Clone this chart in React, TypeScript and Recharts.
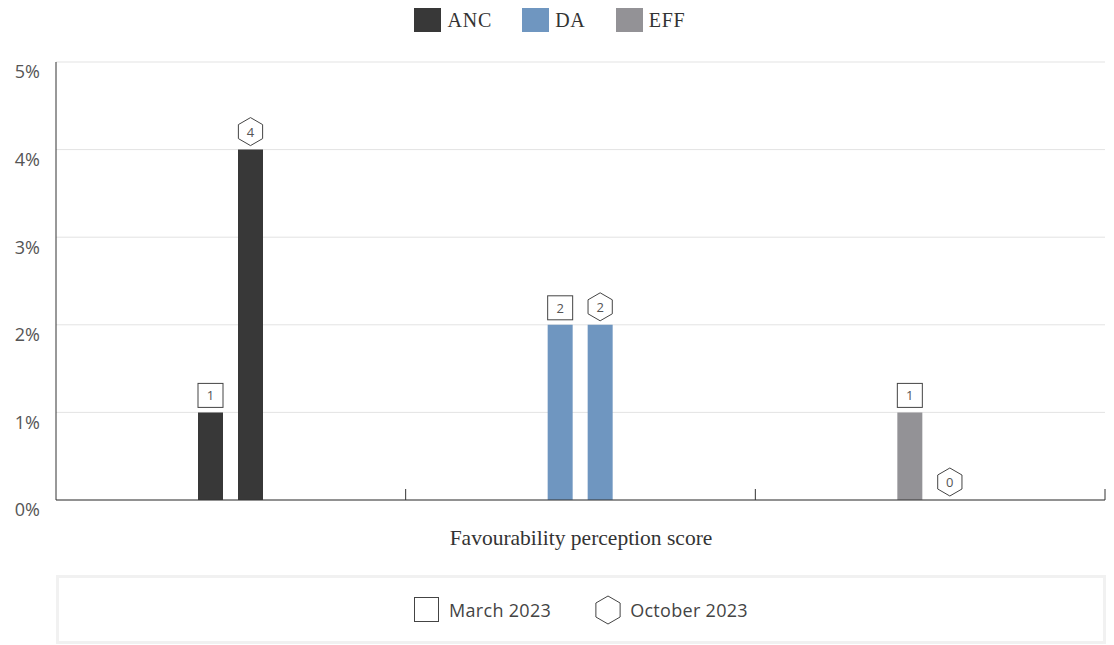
import React from 'react';
import { BarChart, Bar, XAxis, YAxis, CartesianGrid, LabelList, Cell } from 'recharts';

const parties = ['ANC', 'DA', 'EFF'];
const partyColors = ['#383838', '#6f96c0', '#939296'];
const march2023 = [1, 2, 1];
const october2023 = [4, 2, 0];
const yTicks = [0, 1, 2, 3, 4, 5];
const waves = ['March 2023', 'October 2023'];
const xTitle = 'Favourability perception score';

const data = parties.map((p, i) => ({ party: p, march: march2023[i], october: october2023[i] }));

const SANS = '"Open Sans", Lato, sans-serif';
const SERIF = '"Liberation Serif", "DejaVu Serif", serif';

const hexPoints = (cx: number, cy: number, r: number) =>
  [0, 1, 2, 3, 4, 5]
    .map((k) => {
      const a = ((-90 + 60 * k) * Math.PI) / 180;
      return `${cx + r * Math.cos(a)},${cy + r * Math.sin(a)}`;
    })
    .join(' ');

const SquareLabel = (props: any) => {
  const { x, y, width, value } = props;
  const cx = x + width / 2;
  const bottom = y - 5;
  return (
    <g>
      <rect x={cx - 12.5} y={bottom - 24} width={25} height={24} fill="#fff" stroke="#444" strokeWidth={1} />
      <text x={cx} y={bottom - 12} textAnchor="middle" dominantBaseline="central" fontSize={13} fill="#555" fontFamily={SANS}>
        {value}
      </text>
    </g>
  );
};

const HexLabel = (props: any) => {
  const { x, y, width, height, value } = props;
  const cx = x + width / 2;
  // bars of 0 get a tiny min size, so anchor on the lower edge in that case
  const top = value === 0 ? y + height : y;
  const cy = top - 4 - 14;
  return (
    <g>
      <polygon points={hexPoints(cx, cy, 14)} fill="#fff" stroke="#444" strokeWidth={1} />
      <text x={cx} y={cy} textAnchor="middle" dominantBaseline="central" fontSize={13} fill="#555" fontFamily={SANS}>
        {value}
      </text>
    </g>
  );
};

// tick lines sit on the category boundaries, not the centres
const BoundaryTick = (props: any) => {
  const { x, y, payload } = props;
  const half = payload && payload.offset ? payload.offset : 174.8;
  const bx = x + half;
  return <line x1={bx} y1={y} x2={bx} y2={y - 11} stroke="#333" strokeWidth={1} />;
};

const TopLegend = () => (
  <div style={{ position: 'absolute', left: 0, top: 8, width: 1114, display: 'flex', justifyContent: 'center', paddingRight: 14, boxSizing: 'border-box' }}>
    {parties.map((p, i) => (
      <div key={p} style={{ display: 'flex', alignItems: 'center', marginRight: i < parties.length - 1 ? 30 : 0 }}>
        <div style={{ width: 27, height: 24, background: partyColors[i], marginRight: 6 }} />
        <span style={{ fontFamily: SERIF, fontSize: 20, color: '#333', lineHeight: '24px', letterSpacing: 0.8 }}>{p}</span>
      </div>
    ))}
  </div>
);

const BottomLegend = () => (
  <div
    style={{
      position: 'absolute', left: 56, top: 575, width: 1050, height: 69, boxSizing: 'border-box',
      border: '3px solid #f1f1f1', display: 'flex', alignItems: 'center', justifyContent: 'center',
    }}
  >
    <div style={{ display: 'flex', alignItems: 'center', marginRight: 44 }}>
      <svg width={26} height={26} style={{ marginRight: 9 }}>
        <rect x={0.5} y={0.5} width={24} height={24} fill="#fff" stroke="#444" />
      </svg>
      <span style={{ fontFamily: SANS, fontSize: 18, color: '#444', letterSpacing: 0.3 }}>{waves[0]}</span>
    </div>
    <div style={{ display: 'flex', alignItems: 'center' }}>
      <svg width={26} height={30} style={{ marginRight: 9 }}>
        <polygon points={hexPoints(13, 15, 14)} fill="#fff" stroke="#444" />
      </svg>
      <span style={{ fontFamily: SANS, fontSize: 18, color: '#444', letterSpacing: 0.3 }}>{waves[1]}</span>
    </div>
  </div>
);

export default function App() {
  return (
    <div style={{ position: 'absolute', left: 0, top: 0, width: 1114, height: 645, background: '#fff' }}>
      <TopLegend />
      <BarChart
        width={1114}
        height={560}
        data={data}
        margin={{ top: 62, right: 9, left: 0, bottom: 59 }}
        barSize={25}
        barGap={15}
      >
        <CartesianGrid horizontal vertical={false} stroke="#e3e3e3" />
        <XAxis
          dataKey="party"
          height={1}
          interval={0}
          tickLine={false}
          tickSize={0}
          tickMargin={0}
          axisLine={{ stroke: '#333' }}
          tick={BoundaryTick}
        />
        <YAxis
          width={56}
          domain={[0, 5]}
          ticks={yTicks}
          tickFormatter={(v) => `${v}%`}
          axisLine={{ stroke: '#333' }}
          tickLine={false}
          tickMargin={10}
          tick={{ fill: '#555', fontSize: 18, fontFamily: SANS, dy: 10 }}
        />
        <Bar dataKey="march" name={waves[0]} isAnimationActive={false}>
          {data.map((d, i) => (
            <Cell key={d.party} fill={partyColors[i]} />
          ))}
          <LabelList dataKey="march" content={SquareLabel} />
        </Bar>
        <Bar dataKey="october" name={waves[1]} minPointSize={0.01} isAnimationActive={false}>
          {data.map((d, i) => (
            <Cell key={d.party} fill={partyColors[i]} />
          ))}
          <LabelList dataKey="october" content={HexLabel} />
        </Bar>
      </BarChart>
      <div style={{ position: 'absolute', left: 56, top: 526, width: 1050, textAlign: 'center', fontFamily: SERIF, fontSize: 21.5, color: '#333' }}>
        {xTitle}
      </div>
      <BottomLegend />
    </div>
  );
}
